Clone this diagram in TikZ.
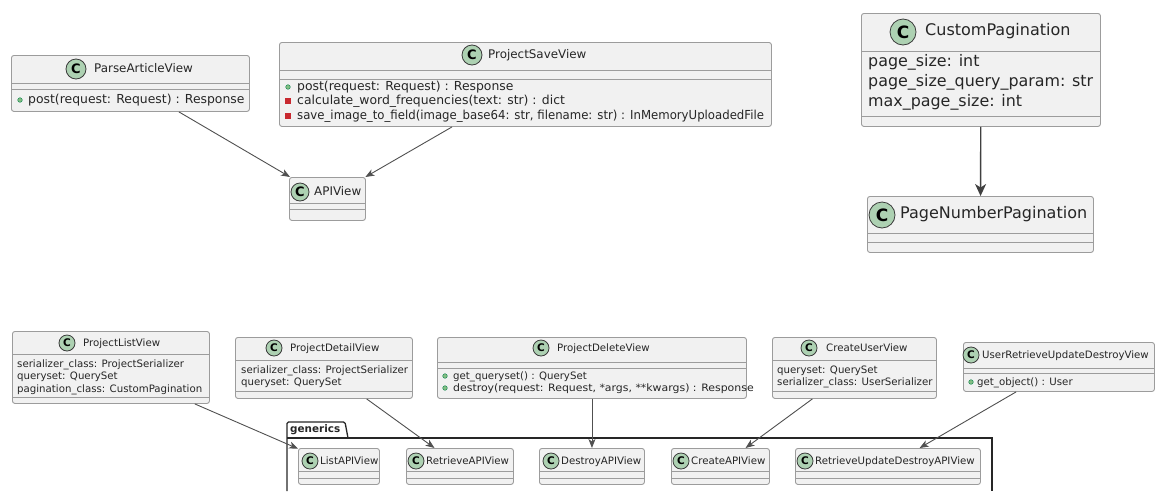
\documentclass[tikz,border=0pt]{standalone}
\usepackage{fontspec}
\setmainfont{DejaVu Sans}
\usetikzlibrary{arrows.meta}
\definecolor{boxfill}{HTML}{F1F1F1}
\definecolor{boxline}{HTML}{9C9C9C}
\definecolor{badgefill}{HTML}{ADD1B2}
\definecolor{badgeline}{HTML}{3A3A3A}
\definecolor{inkgray}{HTML}{262626}
\definecolor{arrowgray}{HTML}{505050}
\definecolor{pubfill}{HTML}{84BE84}
\definecolor{publine}{HTML}{038048}
\definecolor{privfill}{HTML}{C82930}
\tikzset{
  cbox/.style={draw=boxline, fill=boxfill, rounded corners=2.5pt, line width=0.9pt, inner sep=0pt, anchor=north west},
  sep/.style={draw=boxline, line width=0.9pt},
  badge/.style={circle, draw=badgeline, fill=badgefill, line width=0.8pt, inner sep=0pt, text=black},
  badgeL/.style={badge, minimum size=26pt, font=\fontsize{17}{17}\bfseries},
  badgeM/.style={badge, minimum size=20pt, font=\fontsize{13}{13}\bfseries},
  badgeS/.style={badge, minimum size=16pt, font=\fontsize{10.5}{10.5}\bfseries},
  txt/.style={anchor=west, inner sep=0pt, text=inkgray, text height=0.76em, text depth=0.16em},
  headtop/.style={txt, font=\fontsize{11.9}{14}\selectfont},
  membtop/.style={txt, font=\fontsize{12.4}{15}\selectfont},
  headpag/.style={txt, font=\fontsize{16}{19}\selectfont},
  membpag/.style={txt, font=\fontsize{15.9}{19}\selectfont},
  headbot/.style={txt, font=\fontsize{10.2}{12}\selectfont},
  membbot/.style={txt, font=\fontsize{10.2}{12}\selectfont},
  pub/.style={circle, fill=pubfill, draw=publine, line width=0.4pt, inner sep=0pt, minimum size=4.6pt},
  priv/.style={rectangle, fill=privfill, draw=privfill, inner sep=0pt, minimum size=5pt},
  inh/.style={draw=arrowgray, line width=0.9pt, -{Stealth[length=9pt, width=7pt, inset=2.5pt]}},
  inhbig/.style={draw=arrowgray!80!black, line width=1.4pt, -{Stealth[length=12pt, width=11pt, inset=3.5pt]}},
  pkg/.style={draw=black!85, line width=1.3pt},
  pkgname/.style={anchor=west, inner sep=0pt, font=\fontsize{10.4}{12}\bfseries, text=inkgray}
}
\begin{document}
\begin{tikzpicture}[x=1pt,y=-1pt]
\useasboundingbox (0,0) rectangle (1156,491);

\draw[pkg, rounded corners=1.5pt] (287,491) -- (287,422) -- (345,422) -- (348,438);
\draw[pkg] (287,438) -- (992,438) -- (992,491);
\node[pkgname] (gen) at (290,430) {generics};

\node[cbox, minimum width=238, minimum height=56] (pav) at (11,55) {};
\node[cbox, minimum width=492, minimum height=84] (psv) at (279,42) {};
\node[cbox, minimum width=76, minimum height=43] (api) at (289,177) {};
\node[cbox, minimum width=239, minimum height=113] (cp) at (861,13) {};
\node[cbox, minimum width=226, minimum height=56] (pnp) at (867,196) {};
\node[cbox, minimum width=197, minimum height=72] (plv) at (12,331) {};
\node[cbox, minimum width=177, minimum height=61] (pdv) at (235,337) {};
\node[cbox, minimum width=309, minimum height=61] (pdelv) at (437,337) {};
\node[cbox, minimum width=164, minimum height=61] (cuv) at (772,337) {};
\node[cbox, minimum width=191, minimum height=49] (urudv) at (963,342) {};
\node[cbox, minimum width=81, minimum height=36] (lav) at (298,448) {};
\node[cbox, minimum width=107, minimum height=36] (rav) at (406,448) {};
\node[cbox, minimum width=105, minimum height=36] (dav) at (539,448) {};
\node[cbox, minimum width=98, minimum height=36] (cav) at (671,448) {};
\node[cbox, minimum width=185, minimum height=36] (rudav) at (795,448) {};

\draw[sep] (11,83) -- (249,83) (11,89) -- (249,89);
\draw[sep] (279,70) -- (771,70) (279,79) -- (771,79);
\draw[sep] (289,203) -- (365,203) (289,209) -- (365,209);
\draw[sep] (861,51) -- (1100,51) (861,116) -- (1100,116);
\draw[sep] (867,233) -- (1093,233) (867,242) -- (1093,242);
\draw[sep] (12,354) -- (209,354) (12,397) -- (209,397);
\draw[sep] (235,360) -- (412,360) (235,391) -- (412,391);
\draw[sep] (437,362) -- (746,362) (437,368) -- (746,368);
\draw[sep] (772,360) -- (936,360) (772,391) -- (936,391);
\draw[sep] (963,368) -- (1154,368) (963,373) -- (1154,373);
\draw[sep] (298,471) -- (379,471) (298,478) -- (379,478);
\draw[sep] (406,471) -- (513,471) (406,478) -- (513,478);
\draw[sep] (539,471) -- (644,471) (539,478) -- (644,478);
\draw[sep] (671,471) -- (769,471) (671,478) -- (769,478);
\draw[sep] (795,471) -- (980,471) (795,478) -- (980,478);

\node[badgeM] (pav-c) at (76,69) {C};
\node[headtop] (pav-n) at (94,69) {ParseArticleView};
\node[pub] (pav-b1) at (20,100) {};
\node[membtop] (pav-m1) at (28,100) {post(request: Request) : Response};

\node[badgeM] (psv-c) at (472,55) {C};
\node[headtop] (psv-n) at (488,55) {ProjectSaveView};
\node[pub] (psv-b1) at (288,87) {};
\node[priv] (psv-b2) at (288,101) {};
\node[priv] (psv-b3) at (288,116) {};
\node[membtop] (psv-m1) at (297,87) {post(request: Request) : Response};
\node[membtop] (psv-m2) at (297,101) {calculate\_word\_frequencies(text: str) : dict};
\node[membtop] (psv-m3) at (297,116) {\scalebox{0.945}[1]{save\_image\_to\_field(image\_base64: str, filename: str) : InMemoryUploadedFile}};

\node[badgeM, minimum size=18pt] (api-c) at (300,192) {C};
\node[headtop] (api-n) at (314,192) {APIView};

\node[badgeL] (cp-c) at (903,32) {C};
\node[headpag] (cp-n) at (925,32) {CustomPagination};
\node[membpag] (cp-a1) at (868,63) {page\_size: int};
\node[membpag] (cp-a2) at (868,83) {page\_size\_query\_param: str};
\node[membpag] (cp-a3) at (868,103) {max\_page\_size: int};

\node[badgeL] (pnp-c) at (882,215) {C};
\node[headpag] (pnp-n) at (900,215) {PageNumberPagination};

\node[badgeS] (plv-c) at (67,343) {C};
\node[headbot] (plv-n) at (83,343) {ProjectListView};
\node[membbot] (plv-a1) at (17,364) {serializer\_class: ProjectSerializer};
\node[membbot] (plv-a2) at (17,376) {queryset: QuerySet};
\node[membbot] (plv-a3) at (17,389) {pagination\_class: CustomPagination};

\node[badgeS] (pdv-c) at (274,348) {C};
\node[headbot] (pdv-n) at (290,348) {ProjectDetailView};
\node[membbot] (pdv-a1) at (241,370) {serializer\_class: ProjectSerializer};
\node[membbot] (pdv-a2) at (241,382) {queryset: QuerySet};

\node[badgeS] (pdelv-c) at (541,348) {C};
\node[headbot] (pdelv-n) at (557,348) {ProjectDeleteView};
\node[pub] (pdelv-b1) at (445,376) {};
\node[pub] (pdelv-b2) at (445,388) {};
\node[membbot] (pdelv-m1) at (453,376) {get\_queryset() : QuerySet};
\node[membbot] (pdelv-m2) at (453,388) {\scalebox{1.07}[1]{destroy(request: Request, *args, **kwargs) : Response}};

\node[badgeS] (cuv-c) at (809,348) {C};
\node[headbot] (cuv-n) at (826,348) {CreateUserView};
\node[membbot] (cuv-a1) at (777,370) {queryset: QuerySet};
\node[membbot] (cuv-a2) at (777,382) {serializer\_class: UserSerializer};

\node[badgeS] (urudv-c) at (971,355) {C};
\node[headbot] (urudv-n) at (982,355) {UserRetrieveUpdateDestroyView};
\node[pub] (urudv-b1) at (971,382) {};
\node[membbot] (urudv-m1) at (977,382) {get\_object() : User};

\node[badgeS] (lav-c) at (310,461) {C};
\node[headbot] (lav-n) at (320,461) {ListAPIView};
\node[badgeS] (rav-c) at (416,461) {C};
\node[headbot] (rav-n) at (426,461) {RetrieveAPIView};
\node[badgeS] (dav-c) at (551,461) {C};
\node[headbot] (dav-n) at (561,461) {DestroyAPIView};
\node[badgeS] (cav-c) at (681,461) {C};
\node[headbot] (cav-n) at (691,461) {CreateAPIView};
\node[badgeS] (rudav-c) at (805,461) {C};
\node[headbot] (rudav-n) at (815,461) {RetrieveUpdateDestroyAPIView};

\draw[inh] (pav) -- (api);
\draw[inh] (psv) -- (api);
\draw[inhbig] (cp) -- (pnp);
\draw[inh] (plv) -- (lav);
\draw[inh] (pdv) -- (rav);
\draw[inh] (pdelv) -- (dav);
\draw[inh] (cuv) -- (cav);
\draw[inh] (urudv) -- (rudav);
\end{tikzpicture}
\end{document}
